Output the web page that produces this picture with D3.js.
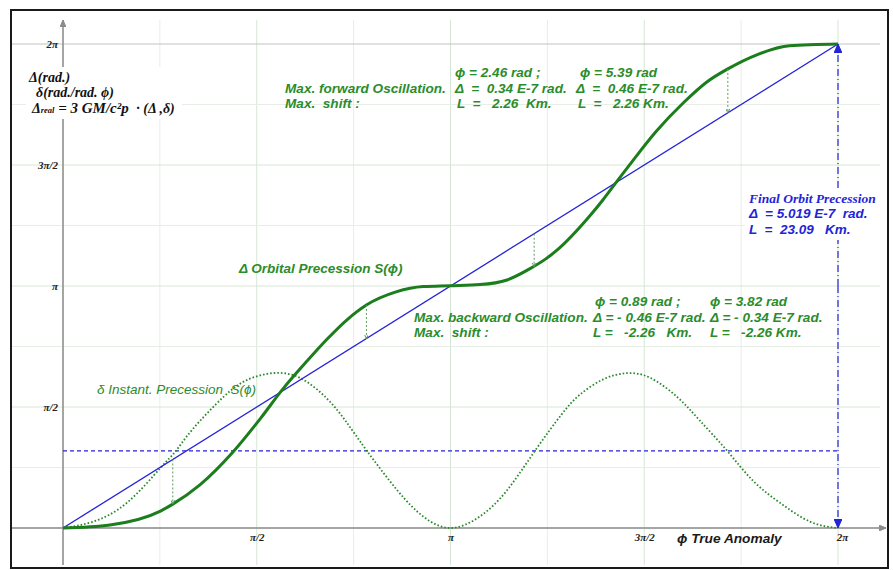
<!DOCTYPE html>
<html>
<head>
<meta charset="utf-8">
<script src="https://cdn.jsdelivr.net/npm/d3@7"></script>
<style>
	body { margin: 0; background: #fff; }
	svg { display: block; }
	text { white-space: pre; }
</style>
</head>
<body>
<div id="chart"></div>
<script>
var PI = Math.PI;

// Δ orbital precession S(ϕ) - thick green curve (rad)
var precPhi = [0, 0.38, 0.79, 0.89, 1.11, 1.38, 1.60, 1.78, 1.98, 2.14, 2.30, 2.46, 2.70, 2.92, 3.14, 3.38, 3.60, 3.79, 3.92, 4.00, 4.27, 4.38, 4.50, 4.62, 4.81, 5.03, 5.22, 5.39, 5.62, 5.89, 6.283];
var precVal = [0, 0.04, 0.22, 0.31, 0.56, 0.99, 1.42, 1.80, 2.17, 2.45, 2.70, 2.895, 3.065, 3.135, 3.146, 3.16, 3.22, 3.37, 3.50, 3.60, 4.05, 4.265, 4.52, 4.77, 5.15, 5.52, 5.79, 5.96, 6.14, 6.26, 6.283];

// δ instant precession - dotted green curve (rad / rad ϕ)
var instPhi = [0, 0.24, 0.52, 0.79, 0.91, 1.05, 1.30, 1.49, 1.70, 1.92, 2.14, 2.30, 2.46, 2.71, 2.92, 3.14, 3.38, 3.60, 3.83, 4.04, 4.19, 4.38, 4.57, 4.76, 4.98, 5.16, 5.38, 5.59, 5.81, 6.06, 6.283];
var instVal = [0, 0.08, 0.33, 0.78, 0.99, 1.28, 1.70, 1.92, 2.01, 1.95, 1.68, 1.37, 1.01, 0.49, 0.15, 0, 0.15, 0.49, 1.01, 1.47, 1.73, 1.93, 2.01, 1.95, 1.70, 1.40, 1.01, 0.62, 0.33, 0.08, 0];

// mean precession (blue straight line) and mean δ (blue dashed)
var meanPhi = [0, 2 * PI];
var meanVal = [0, 2 * PI];
var meanInst = 1;

// max oscillations : ϕ, Δ on the green curve
var oscPhi = [0.89, 2.46, 3.82, 5.39];
var oscVal = [0.31, 2.895, 3.392, 5.96];

// ticks
var tickVals = [PI / 2, PI, 3 * PI / 2, 2 * PI];
var tickLabels = ["π/2", "π", "3π/2", "2π"];
var gridVals = d3.range(0, 9).map(function (k) { return k * PI / 4; });

var width = 893, height = 570;
var green = "#1c7d1c", textGreen = "#2b8c2b", blue = "#2323d8", grey = "#8c8c8c";

var svg = d3.select("#chart").append("svg")
	.attr("width", width)
	.attr("height", height);

var x = d3.scaleLinear().domain([0, 2 * PI]).range([63, 838]);
var y = d3.scaleLinear().domain([0, 2 * PI]).range([528, 44]);

// fleches
var defs = svg.append("defs");
function arrow(id, color, w, h, filled) {
	defs.append("marker")
		.attr("id", id)
		.attr("markerUnits", "userSpaceOnUse")
		.attr("viewBox", "0 0 " + w + " " + h)
		.attr("refX", w).attr("refY", h / 2)
		.attr("markerWidth", w).attr("markerHeight", h)
		.attr("orient", "auto")
		.append("path")
		.attr("d", filled ? "M0,0 L" + w + "," + h / 2 + " L0," + h + " Z" : "M0,0 L" + w + "," + h / 2 + " L0," + h)
		.attr("fill", filled ? color : "none")
		.attr("stroke", color)
		.attr("stroke-width", 1);
}
arrow("arrGrey", grey, 7, 6, true);
arrow("arrBlue", blue, 9, 8, true);
arrow("arrGreen", "#5c9c5c", 4, 4, false);

// cadre
svg.append("rect")
	.attr("x", 11).attr("y", 10)
	.attr("width", 877).attr("height", 558)
	.attr("fill", "#fff")
	.attr("stroke", "#1a1a1a")
	.attr("stroke-width", 2);

// grille
var grid = svg.append("g").attr("class", "grid");
grid.selectAll(".gv").data(gridVals).enter().append("line")
	.attr("x1", function (d) { return x(d); }).attr("x2", function (d) { return x(d); })
	.attr("y1", 20).attr("y2", 565)
	.attr("stroke", function (d, i) { return i % 2 ? "#e6eee6" : "#d6e6d6"; })
	.attr("stroke-width", 1);
grid.selectAll(".gh").data(gridVals).enter().append("line")
	.attr("y1", function (d) { return y(d); }).attr("y2", function (d) { return y(d); })
	.attr("x1", 12).attr("x2", 880)
	.attr("stroke", function (d, i) { return i == 8 ? "#c2c2c2" : (i % 2 ? "#e6eee6" : "#d6e6d6"); })
	.attr("stroke-width", 1);

// axes
svg.append("line")
	.attr("x1", 12).attr("x2", 886)
	.attr("y1", y(0)).attr("y2", y(0))
	.attr("stroke", grey).attr("stroke-width", 1.5)
	.attr("marker-end", "url(#arrGrey)");
svg.append("line")
	.attr("x1", x(0)).attr("x2", x(0))
	.attr("y1", 565).attr("y2", 20)
	.attr("stroke", grey).attr("stroke-width", 1.5)
	.attr("marker-end", "url(#arrGrey)");

var xAxis = svg.append("g")
	.attr("transform", "translate(0," + y(0) + ")")
	.call(d3.axisBottom(x).tickValues(tickVals).tickSize(0).tickPadding(5)
		.tickFormat(function (d, i) { return tickLabels[i]; }));
var yAxis = svg.append("g")
	.attr("transform", "translate(" + x(0) + ",0)")
	.call(d3.axisLeft(y).tickValues(tickVals).tickSize(0).tickPadding(5)
		.tickFormat(function (d, i) { return tickLabels[i]; }));
[xAxis, yAxis].forEach(function (a) {
	a.select(".domain").remove();
	a.selectAll("text")
		.attr("font-family", "'Liberation Serif', 'DejaVu Serif', serif")
		.attr("font-style", "italic")
		.attr("font-weight", "bold")
		.attr("font-size", 11)
		.attr("fill", "#222");
});
xAxis.selectAll(".tick").filter(function (d) { return d == 2 * PI; })
	.select("text").attr("dx", 4);

// libelle axe y (fond blanc)
var yLab = svg.append("g");
yLab.append("rect").attr("x", 26).attr("y", 67).attr("width", 156).attr("height", 52).attr("fill", "#fff");
var yLabText = yLab.append("text")
	.attr("font-family", "'Liberation Serif', serif")
	.attr("font-style", "italic").attr("font-weight", "bold")
	.attr("font-size", 14).attr("fill", "#111");
yLabText.append("tspan").attr("x", 29).attr("y", 82).text("Δ(rad.)");
yLabText.append("tspan").attr("x", 36).attr("y", 97).text("δ(rad./rad. ϕ)");
var l3 = yLabText.append("tspan").attr("x", 32).attr("y", 113).text("Δ");
l3.append("tspan").attr("font-size", 8.5).text("real");
l3.append("tspan").attr("font-size", 15).text(" = 3 GM/c²p  ");
l3.append("tspan").attr("font-size", 14).text("· (Δ ,δ)");

// courbes
var lineGen = d3.line()
	.x(function (d) { return x(d[0]); })
	.y(function (d) { return y(d[1]); });

var meanData = meanPhi.map(function (p, i) { return [p, meanVal[i]]; });
var precData = precPhi.map(function (p, i) { return [p, precVal[i]]; });
var instData = instPhi.map(function (p, i) { return [p, instVal[i]]; });

// δ moyen
svg.append("line")
	.attr("x1", x(0)).attr("x2", x(2 * PI))
	.attr("y1", y(meanInst)).attr("y2", y(meanInst))
	.attr("stroke", blue).attr("stroke-width", 1.3)
	.attr("stroke-dasharray", "4,3");

svg.append("path")
	.datum(instData)
	.attr("d", lineGen.curve(d3.curveNatural))
	.attr("fill", "none")
	.attr("stroke", "#2a8a2a")
	.attr("stroke-width", 1.8)
	.attr("stroke-dasharray", "1.6,2");

svg.append("path")
	.datum(meanData)
	.attr("d", lineGen.curve(d3.curveLinear))
	.attr("fill", "none")
	.attr("stroke", blue)
	.attr("stroke-width", 1.3);

svg.append("path")
	.datum(precData)
	.attr("d", lineGen.curve(d3.curveMonotoneX))
	.attr("fill", "none")
	.attr("stroke", green)
	.attr("stroke-width", 3);

// oscillations max (fleche vers le bas)
svg.selectAll(".osc").data(oscPhi).enter().append("line")
	.attr("x1", function (d) { return x(d); })
	.attr("x2", function (d) { return x(d); })
	.attr("y1", function (d, i) { return Math.min(y(d), y(oscVal[i])); })
	.attr("y2", function (d, i) { return Math.max(y(d), y(oscVal[i])); })
	.attr("stroke", "#5c9c5c").attr("stroke-width", 1)
	.attr("stroke-dasharray", "2,2")
	.attr("marker-end", "url(#arrGreen)");

// precession finale : fleche verticale a 2π
svg.append("line")
	.attr("x1", x(2 * PI)).attr("x2", x(2 * PI))
	.attr("y1", y(PI)).attr("y2", y(2 * PI))
	.attr("stroke", blue).attr("stroke-width", 1.2)
	.attr("stroke-dasharray", "7,3,1,3")
	.attr("marker-end", "url(#arrBlue)");
svg.append("line")
	.attr("x1", x(2 * PI)).attr("x2", x(2 * PI))
	.attr("y1", y(PI)).attr("y2", y(0))
	.attr("stroke", blue).attr("stroke-width", 1.2)
	.attr("stroke-dasharray", "7,3,1,3")
	.attr("marker-end", "url(#arrBlue)");

// textes
function label(g, xx, yy, str, opt) {
	opt = opt || {};
	return g.append("text")
		.attr("x", xx).attr("y", yy)
		.attr("font-family", opt.serif ? "'Liberation Serif', serif" : "'Liberation Sans', Arial, sans-serif")
		.attr("font-style", "italic")
		.attr("font-weight", opt.normal ? "normal" : "bold")
		.attr("font-size", opt.size || 13.6)
		.attr("fill", opt.color || textGreen)
		.text(str);
}

var notes = svg.append("g");
label(notes, 455, 77, "ϕ = 2.46 rad ;");
label(notes, 580, 77, "ϕ = 5.39 rad");
label(notes, 285, 93, "Max. forward Oscillation.");
label(notes, 455, 93, "Δ  =  0.34 E-7 rad.");
label(notes, 576, 93, "Δ  =  0.46 E-7 rad.");
label(notes, 285, 108, "Max.  shift :");
label(notes, 457, 108, "L  =   2.26  Km.");
label(notes, 578, 108, "L  =   2.26 Km.");

label(notes, 595, 306, "ϕ = 0.89 rad ;");
label(notes, 710, 306, "ϕ = 3.82 rad");
label(notes, 414, 322, "Max. backward Oscillation.");
label(notes, 593, 322, "Δ = - 0.46 E-7 rad.");
label(notes, 710, 322, "Δ = - 0.34 E-7 rad.");
label(notes, 414, 337, "Max.  shift :");
label(notes, 593, 337, "L =   -2.26   Km.");
label(notes, 710, 337, "L =   -2.26 Km.");

label(notes, 239, 273, "Δ Orbital Precession S(ϕ)", { size: 13.5 });
label(notes, 97, 394, "δ Instant. Precession  S(ϕ)", { size: 13.5, normal: true });

notes.append("rect").attr("x", 745).attr("y", 188).attr("width", 138).attr("height", 52).attr("fill", "#fff");
label(notes, 749, 203, "Final Orbit Precession", { serif: true, size: 13.5, color: blue });
label(notes, 749, 218, "Δ  = 5.019 E-7  rad.", { size: 13.5, color: blue });
label(notes, 749, 234, "L  =  23.09   Km.", { size: 13.5, color: blue });

label(notes, 677, 543, "ϕ True Anomaly", { size: 13.7, color: "#1a1a1a" });
</script>
</body>
</html>
